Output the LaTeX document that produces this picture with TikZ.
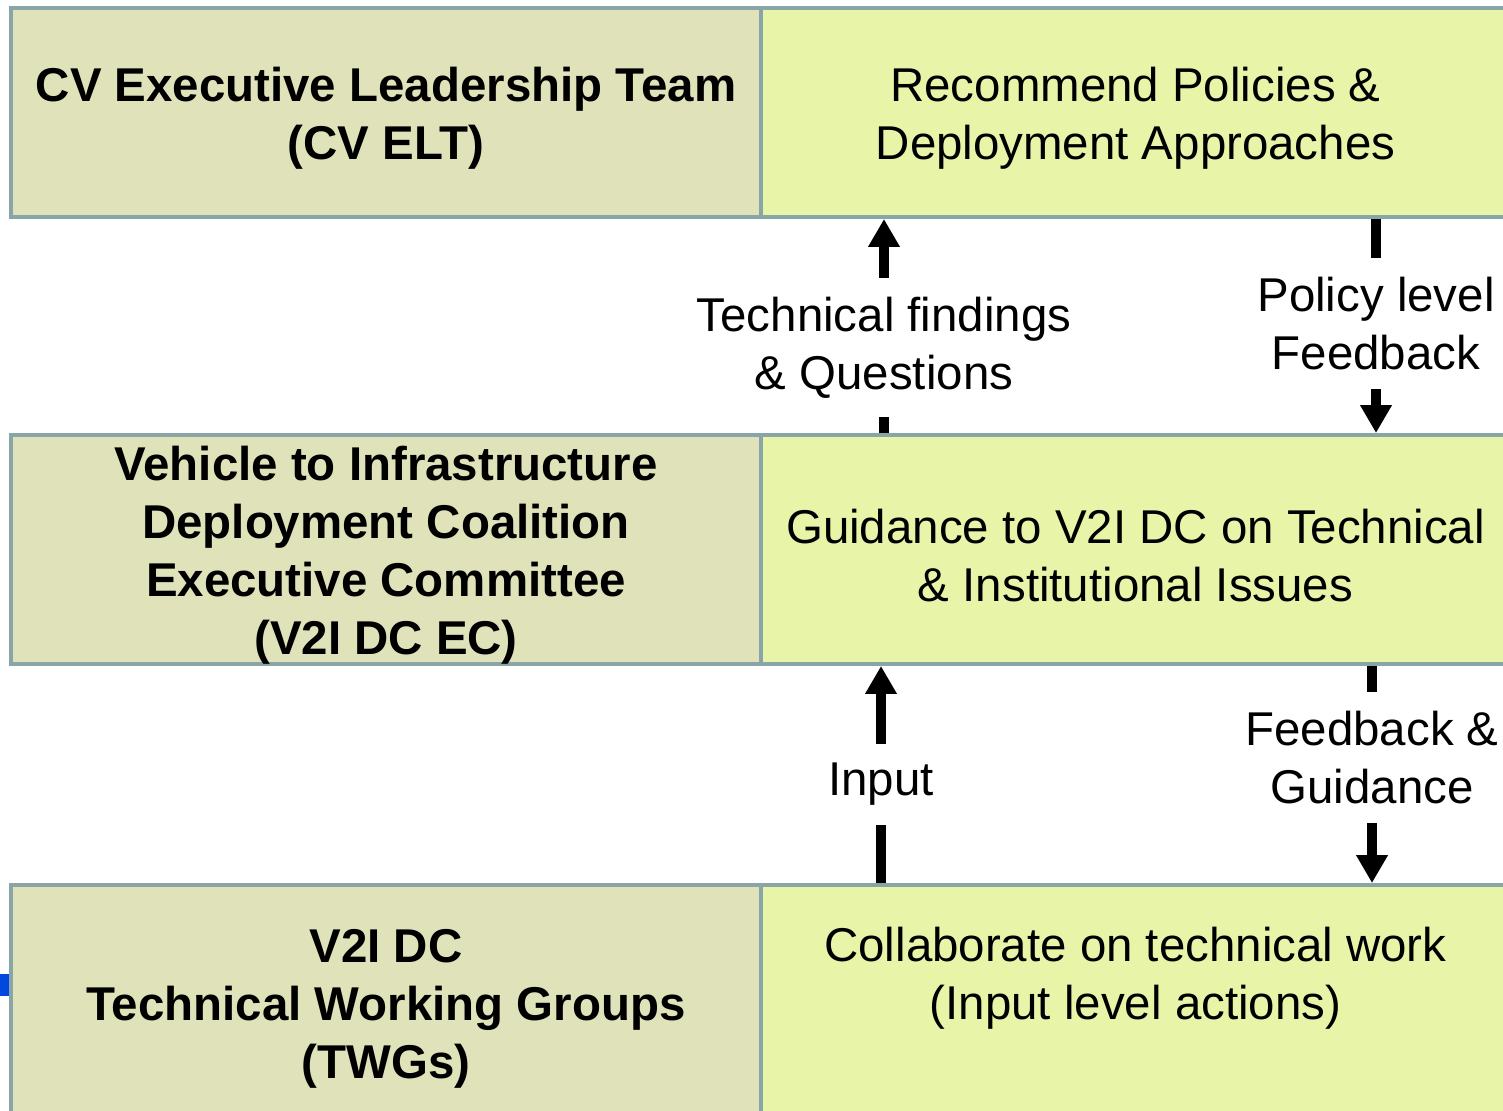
\documentclass[tikz,border=0pt]{standalone}
\usepackage{fontspec}
\setmainfont{Liberation Sans}
\usetikzlibrary{arrows.meta}
\definecolor{roleback}{RGB}{224,226,186}
\definecolor{taskback}{RGB}{232,244,168}
\definecolor{rimgray}{RGB}{138,165,168}
\definecolor{edgeblue}{RGB}{0,72,224}

\begin{document}
\begin{tikzpicture}[x=0.02cm,y=-0.02cm,
    cell/.style={draw=rimgray,line width=0.08cm,inner sep=0pt},
    role/.style={cell,fill=roleback,minimum width=15cm},
    task/.style={cell,fill=taskback,minimum width=14.98cm},
    words/.style={align=center,inner sep=0pt,yshift=-0.12cm,
      font=\fontsize{27}{33}\selectfont},
    boldwords/.style={words,font=\fontsize{27}{33}\selectfont\bfseries},
    flow/.style={line width=0.2cm,-{Triangle[width=0.6cm,length=0.56cm]}},
    tag/.style={fill=white,inner xsep=0.1cm,inner ysep=0.38cm,align=center,
      font=\fontsize{27}{33}\selectfont}]
  \useasboundingbox (0,0) rectangle (1503,1110);
  \clip (0,0) rectangle (1503,1110);
  \fill[edgeblue] (0,974) rectangle (10,996);
  % top row
  \node[role,minimum height=4.18cm] (elt) at (386,112.5) {};
  \node[task,minimum height=4.18cm] (policy) at (1135.5,112.5) {};
  \node[boldwords] (elttext) at (elt.center) {CV Executive Leadership Team\\(CV ELT)};
  \node[words] (policytext) at (policy.center) {Recommend Policies \&\\Deployment Approaches};
  % middle row
  \node[role,minimum height=4.58cm] (ec) at (386,549.5) {};
  \node[task,minimum height=4.58cm] (guide) at (1135.5,549.5) {};
  \node[boldwords] (ectext) at (ec.center)
    {Vehicle to Infrastructure\\Deployment Coalition\\Executive Committee\\(V2I DC EC)};
  \node[words] (guidetext) at (guide.center)
    {Guidance to V2I DC on Technical\\\& Institutional Issues};
  % bottom row
  \node[role,minimum height=4.7cm] (twg) at (386,1002.5) {};
  \node[task,minimum height=4.7cm] (collab) at (1135.5,1002.5) {};
  \node[boldwords] (twgtext) at (twg.center) {V2I DC\\Technical Working Groups\\(TWGs)};
  \node[words] (collabtext) at (1135.5,972)
    {Collaborate on technical work\\(Input level actions)};
  % arrow columns
  \coordinate (upa) at (884,0);
  \coordinate (downa) at (1376,0);
  \coordinate (upb) at (881,0);
  \coordinate (downb) at (1372,0);
  \draw[flow] (guide.north -| upa) -- node[tag,pos=0.40]
    {Technical findings\\\& Questions} (policy.south -| upa);
  \draw[flow] (policy.south -| downa) -- node[tag,pos=0.49]
    {Policy level\\Feedback} (guide.north -| downa);
  \draw[flow] (collab.north -| upb) -- node[tag,pos=0.455] {Input} (guide.south -| upb);
  \draw[flow] (guide.south -| downb) -- node[tag,pos=0.42]
    {Feedback \&\\Guidance} (collab.north -| downb);
\end{tikzpicture}
\end{document}
